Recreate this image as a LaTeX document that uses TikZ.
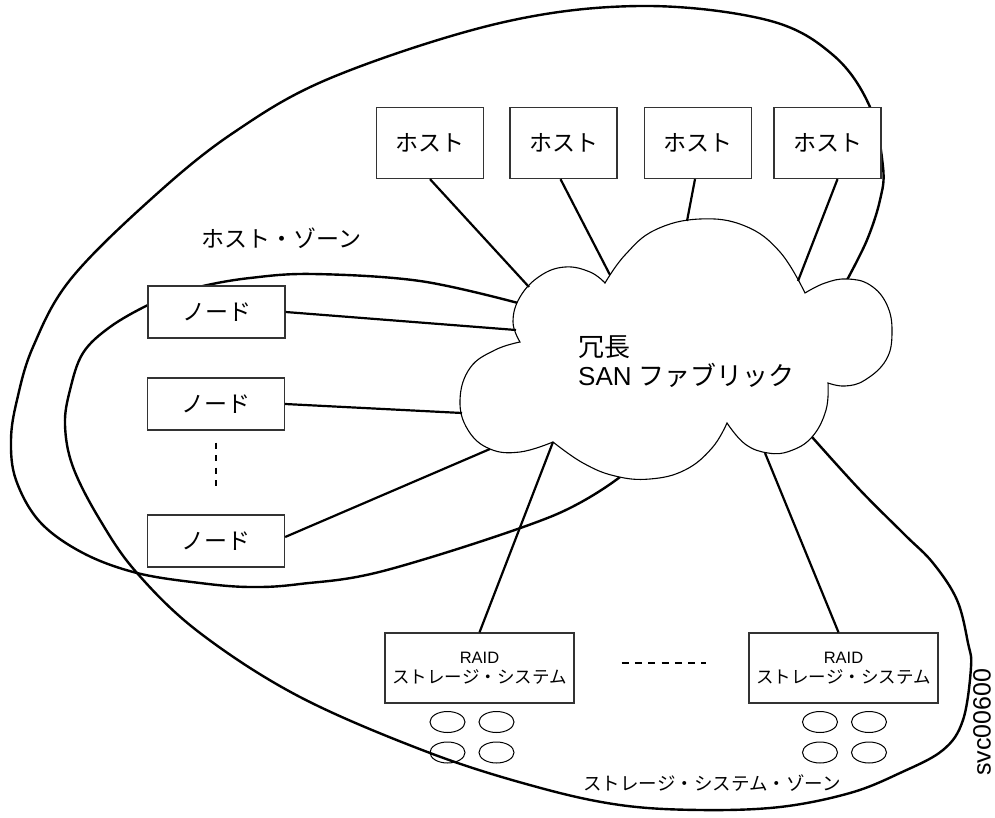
\documentclass[tikz,border=0pt]{standalone}
\usepackage{fontspec}
\setmainfont{Liberation Sans}
\newfontfamily\jp{Noto Sans CJK JP}
\begin{document}
\begin{tikzpicture}[x=1pt,y=-1pt,
  box/.style={draw=black!80,line width=1.3pt,fill=white,inner sep=0pt,align=center},
  hbox/.style={box,minimum width=107pt,minimum height=71pt,font=\jp\fontsize{23}{27}\selectfont},
  nbox/.style={box,minimum width=137pt,minimum height=52pt,font=\jp\fontsize{23}{27}\selectfont},
  rbox/.style={box,minimum width=189pt,minimum height=70pt,font=\fontsize{16.5}{20}\selectfont},
  wire/.style={line width=2.2pt,black},
  zone/.style={line width=2.4pt,black},
  cloudline/.style={line width=1.1pt,black,fill=white},
  disk/.style={line width=1pt,black},
  dots/.style={line width=2.5pt,black},
  lbl/.style={inner sep=0pt}
]
\useasboundingbox (0,0) rectangle (995,818);

% host zone
\draw[zone] plot[smooth,tension=0.6] coordinates {(847,280) (867,240) (880,200) (883,167) (870,107) (833,55) (767,20) (640,6) (500,23) (333,77) (233,133) (150,200) (70,280) (33,347) (17,400) (11,440) (16,480) (40,522) (83,553) (137,573) (200,583) (250,587) (300,584) (387,570) (550,517) (620,477)};
% storage zone
\draw[zone] plot[smooth,tension=0.6] coordinates {(518,303) (420,281) (313,274) (250,278) (203,286) (175,295) (148,305) (110,327) (83,353) (70,390) (65,425) (73,467) (100,520) (137,573) (200,633) (300,697) (430,753) (537,787) (620,805) (700,810) (780,807) (850,793) (900,773) (943,750) (963,720) (971,667) (968,643) (957,600) (933,563) (905,535) (860,490) (812,437)};

% cloud
\draw[cloudline] plot[smooth,tension=0.7] coordinates {(520,342) (513,322) (520,297) (540,276) (565,267) (590,272) (605,283)}
 -- plot[smooth,tension=0.7] coordinates {(605,283) (625,255) (655,230) (700,219) (745,226) (780,252) (805,293)}
 -- plot[smooth,tension=0.7] coordinates {(805,293) (825,283) (847,279) (870,285) (887,305) (892,333) (886,360) (865,380) (845,386) (828,383)}
 -- plot[smooth,tension=0.7] coordinates {(828,383) (826,410) (812,437) (790,451) (768,453) (745,444) (727,423)}
 -- plot[smooth,tension=0.7] coordinates {(727,423) (712,448) (685,470) (650,479) (615,476) (583,463) (553,442)}
 -- plot[smooth,tension=0.7] coordinates {(553,442) (520,452) (490,449) (468,430) (460,400) (470,368) (495,350) (520,342)}
 -- cycle;
\node[lbl,align=left,anchor=west,font=\fontsize{26}{29}\selectfont] (ct) at (578,362) {{\jp 冗長}\\SAN {\jp ファブリック}};

\coordinate (cH1) at (529,287);
\coordinate (cH2) at (610,275);
\coordinate (cH3) at (687,221);
\coordinate (cH4) at (798,281);
\coordinate (cN1) at (516,330);
\coordinate (cN2) at (462,413);
\coordinate (cN3) at (490,449);
\coordinate (cR1) at (553,442);
\coordinate (cR2) at (765,453);

% boxes
\node[hbox] (H1) at (430,143) {ホスト};
\node[hbox] (H2) at (563.5,143) {ホスト};
\node[hbox] (H3) at (698,143) {ホスト};
\node[hbox] (H4) at (827.5,143) {ホスト};
\node[nbox] (N1) at (216.5,312) {ノード};
\node[nbox] (N2) at (216,404) {ノード};
\node[nbox] (N3) at (216,541) {ノード};
\node[rbox] (R1) at (479.5,668) {RAID\\{\jp\fontsize{17.5}{20}\selectfont ストレージ・システム}};
\node[rbox] (R2) at (843.5,668) {RAID\\{\jp\fontsize{17.5}{20}\selectfont ストレージ・システム}};

% wires
\draw[wire] (H1.south) -- (cH1);
\draw[wire] ([xshift=-3pt]H2.south) -- (cH2);
\draw[wire] ([xshift=-3pt]H3.south) -- (cH3);
\draw[wire] ([xshift=10pt]H4.south) -- (cH4);
\draw[wire] (N1.east) -- (cN1);
\draw[wire] (N2.east) -- (cN2);
\draw[wire] ([yshift=4pt]N3.east) -- (cN3);
\draw[wire] (cR1) -- (R1.north);
\draw[wire] (cR2) -- ([xshift=-5pt]R2.north);

% ellipsis marks
\draw[dots,dash pattern=on 6pt off 6.5pt] ([yshift=-12pt]N2.south) -- ([yshift=22pt]N3.north);
\draw[dots,dash pattern=on 7pt off 6.3pt] ([xshift=47pt,yshift=5pt]R1.east) -- ([xshift=-42pt,yshift=5pt]R2.west);

% disks
\foreach \cx in {447.5,496.5,820,869}{
  \foreach \cy in {722,752.5}{
    \draw[disk] (\cx,\cy) ellipse [x radius=17.5pt, y radius=10.5pt];
  }
}

% labels
\node[lbl,font=\jp\fontsize{23}{27}\selectfont] (hz) at (281.5,238) {ホスト・ゾーン};
\node[lbl,font=\jp\fontsize{18.5}{22}\selectfont] (sz) at (712,783) {ストレージ・システム・ゾーン};
\node[lbl,rotate=90,anchor=south,font=\fontsize{25}{30}\selectfont] (id) at (991,722) {svc00600};
\end{tikzpicture}
\end{document}
